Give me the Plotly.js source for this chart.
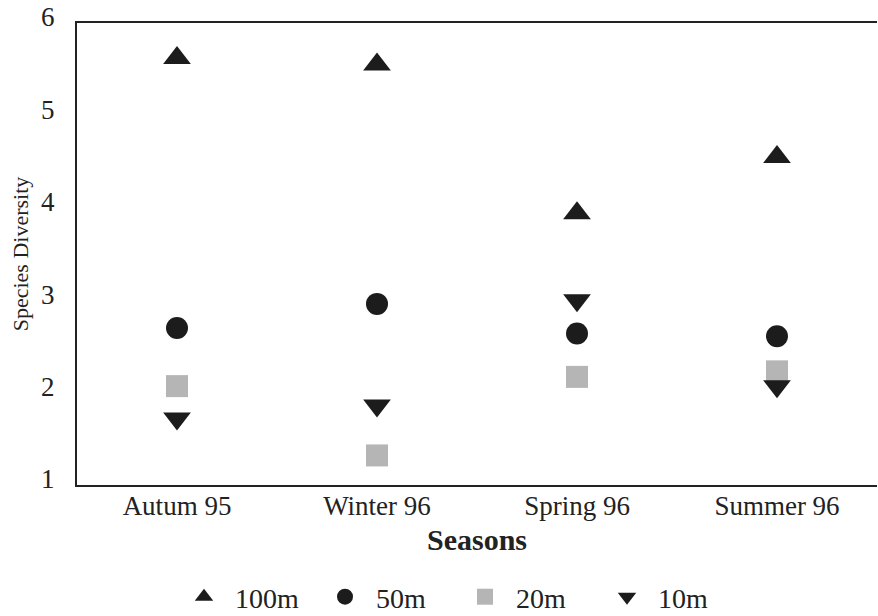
<!DOCTYPE html>
<html>
<head>
<meta charset="utf-8">
<script src="https://cdn.plot.ly/plotly-3.0.1.min.js"></script>
<style>html,body{margin:0;padding:0;background:#fff;}#chart{width:878px;height:616px;}</style>
</head>
<body>
<div id="chart"></div>
<script>
const seasons = ["Autum 95", "Winter 96", "Spring 96", "Summer 96"];
const depth100m = [5.62, 5.55, 3.94, 4.55];
const depth50m = [2.70, 2.96, 2.64, 2.61];
const depth20m = [2.07, 1.32, 2.17, 2.23];
const depth10m = [1.72, 1.86, 3.00, 2.07];
const seriesNames = ["100m", "50m", "20m", "10m"];
const yTicks = [1, 2, 3, 4, 5, 6];

const FONT = "Liberation Serif, Times New Roman, serif";
const dark = "#1c1c1c";

function tr(y, name, symbol, color, size, legendId) {
  return {
    type: "scatter", mode: "markers", x: seasons, y: y, name: name,
    marker: {symbol: symbol, color: color, size: size, line: {width: 0}},
    legend: legendId, showlegend: true
  };
}

const data = [
  tr(depth100m, seriesNames[0], "triangle-up", dark, 24, "legend"),
  tr(depth50m, seriesNames[1], "circle", dark, 22, "legend2"),
  tr(depth20m, seriesNames[2], "square", "#b5b5b5", 22, "legend3"),
  tr(depth10m, seriesNames[3], "triangle-down", dark, 24, "legend4")
];

function leg(xpx) {
  return {
    xref: "container", yref: "container",
    x: (xpx - 31) / 878, xanchor: "left",
    y: (616 - 597) / 616, yanchor: "middle",
    orientation: "h", bgcolor: "rgba(0,0,0,0)", borderwidth: 0,
    itemwidth: 52,
    font: {family: FONT, size: 28, color: "#222"},
    itemclick: false, itemdoubleclick: false
  };
}

const layout = {
  width: 878, height: 616,
  margin: {l: 77, r: 1, t: 23, b: 131},
  paper_bgcolor: "#fff", plot_bgcolor: "#fff",
  font: {family: FONT, color: "#222"},
  xaxis: {
    type: "category", categoryorder: "array", categoryarray: seasons,
    range: [-0.5, 3.5],
    showline: true, linecolor: "#222", linewidth: 2, mirror: true,
    showgrid: false, zeroline: false, ticks: "",
    tickfont: {family: FONT, size: 27, color: "#222"},
    ticklabelstandoff: -4,
    title: {text: "<b>Seasons</b>", font: {family: FONT, size: 30, color: "#222"}, standoff: 9}
  },
  yaxis: {
    range: [1, 6], tickvals: yTicks, ticktext: yTicks.map(String),
    showline: true, linecolor: "#222", linewidth: 2,
    showgrid: false, zeroline: false, ticks: "",
    tickfont: {family: FONT, size: 27, color: "#222"},
    ticklabelstandoff: 15, ticklabelshift: -6,
    title: {text: "Species Diversity", font: {family: FONT, size: 22, color: "#222"}, standoff: 6}
  },
  legend: leg(204),
  legend2: leg(345),
  legend3: leg(485),
  legend4: leg(627),
  showlegend: true
};

Plotly.newPlot("chart", data, layout, {displayModeBar: false, staticPlot: true});
</script>
</body>
</html>
